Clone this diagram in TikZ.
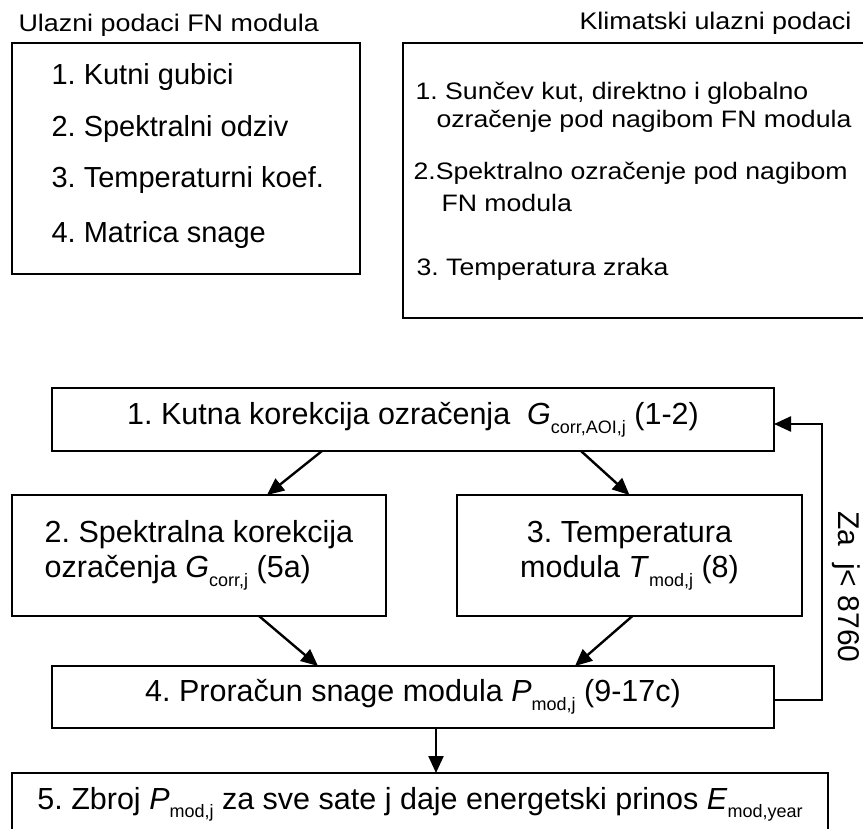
\documentclass[tikz,border=0pt]{standalone}
\usepackage{fontspec}
\setmainfont{Liberation Sans}
\newfontfamily\widefont[FakeStretch=1.12]{Liberation Sans}
\usetikzlibrary{arrows.meta, positioning}

% small lowered index text
\newcommand{\idx}[1]{\raisebox{-0.28em}{\fontsize{18}{18}\selectfont #1}}

\begin{document}
\frenchspacing
\begin{tikzpicture}[
    x=1pt, y=-1pt,
    frame/.style={draw, line width=2pt, inner sep=0pt, outer sep=0pt, anchor=north west},
    block/.style={frame, font=\fontsize{30.5}{35}\selectfont},
    titlefont/.style={font=\widefont\fontsize{24}{28}\selectfont},
    itemfont/.style={font=\fontsize{29}{34}\selectfont},
    climfont/.style={font=\widefont\fontsize{23.8}{28}\selectfont},
    flow/.style={line width=2.4pt, -{Triangle[length=17pt, width=15pt]}}
]
\useasboundingbox (0,0) rectangle (863,829);

% Input data of the module
\node[titlefont, anchor=base west] (modtitle) at (15,32) {Ulazni podaci FN modula};
\node[frame, minimum width=348pt, minimum height=231pt] (modbox) at (12,43) {};
\foreach \i/\txt/\yb in {1/Kutni gubici/85, 2/Spektralni odziv/137, 3/Temperaturni koef./188, 4/Matrica snage/243} {
    \node[itemfont, anchor=base west] (m\i) at (48,\yb) {\i. \txt};
}

% Climate input data
\node[titlefont, anchor=base east] (climtitle) at (855,30) {Klimatski ulazni podaci};
\node[frame, minimum width=470pt, minimum height=275pt] (climbox) at (403,43) {};
\node[climfont, anchor=base west] (c1) at (412,100) {1. Sunčev kut, direktno i globalno};
\node[climfont, anchor=base west] (c1b) at (433,128) {ozračenje pod nagibom FN modula};
\node[climfont, anchor=base west] (c2) at (410,180) {2.Spektralno ozračenje pod nagibom};
\node[climfont, anchor=base west] (c2b) at (438,212) {FN modula};
\node[climfont, anchor=base west] (c3) at (413,276) {3. Temperatura zraka};

% Calculation steps
\node[block, minimum width=722pt, minimum height=63pt] (s1) at (52,388)
    {1. Kutna korekcija ozračenja\ \ \textit{G}\idx{corr,AOI,j} (1-2)};
\node[block, minimum width=374pt, minimum height=121pt, align=left] (s2) at (12,495)
    {2. Spektralna korekcija\\ozračenja \textit{G}\idx{corr,j} (5a)};
\node[block, minimum width=345pt, minimum height=121pt, align=center] (s3) at (457,495)
    {3. Temperatura\\modula \textit{T}\idx{mod,j} (8)};
\node[block, minimum width=722pt, minimum height=62pt] (s4) at (52,666)
    {4. Proračun snage modula \textit{P}\idx{mod,j} (9-17c)};
\node[block, minimum width=816pt, minimum height=63pt] (s5) at (12,773)
    {5. Zbroj \textit{P}\idx{mod,j} za sve sate j daje energetski prinos \textit{E}\idx{mod,year}};

% Arrows between steps
\draw[flow] ([xshift=-91pt]s1.south) -- ([xshift=68pt]s2.north);
\draw[flow] ([xshift=168pt]s1.south) -- (s3.north);
\draw[flow] ([xshift=60pt]s2.south) -- ([xshift=-95pt]s4.north);
\draw[flow] ([xshift=3pt]s3.south) -- ([xshift=162pt]s4.north);
\draw[flow] ([xshift=23pt]s4.south) -- ([xshift=23pt]s4.south |- s5.north);

% Loop over all hours
\coordinate (turn) at (822,424);
\draw[flow] ([yshift=-3pt]s4.east) -| (turn) -- ([yshift=-4.5pt]s1.east);
\node[rotate=-90, font=\fontsize{30}{36}\selectfont] (cond) at (846,587) {Za\ \ j< 8760};

\end{tikzpicture}
\end{document}
